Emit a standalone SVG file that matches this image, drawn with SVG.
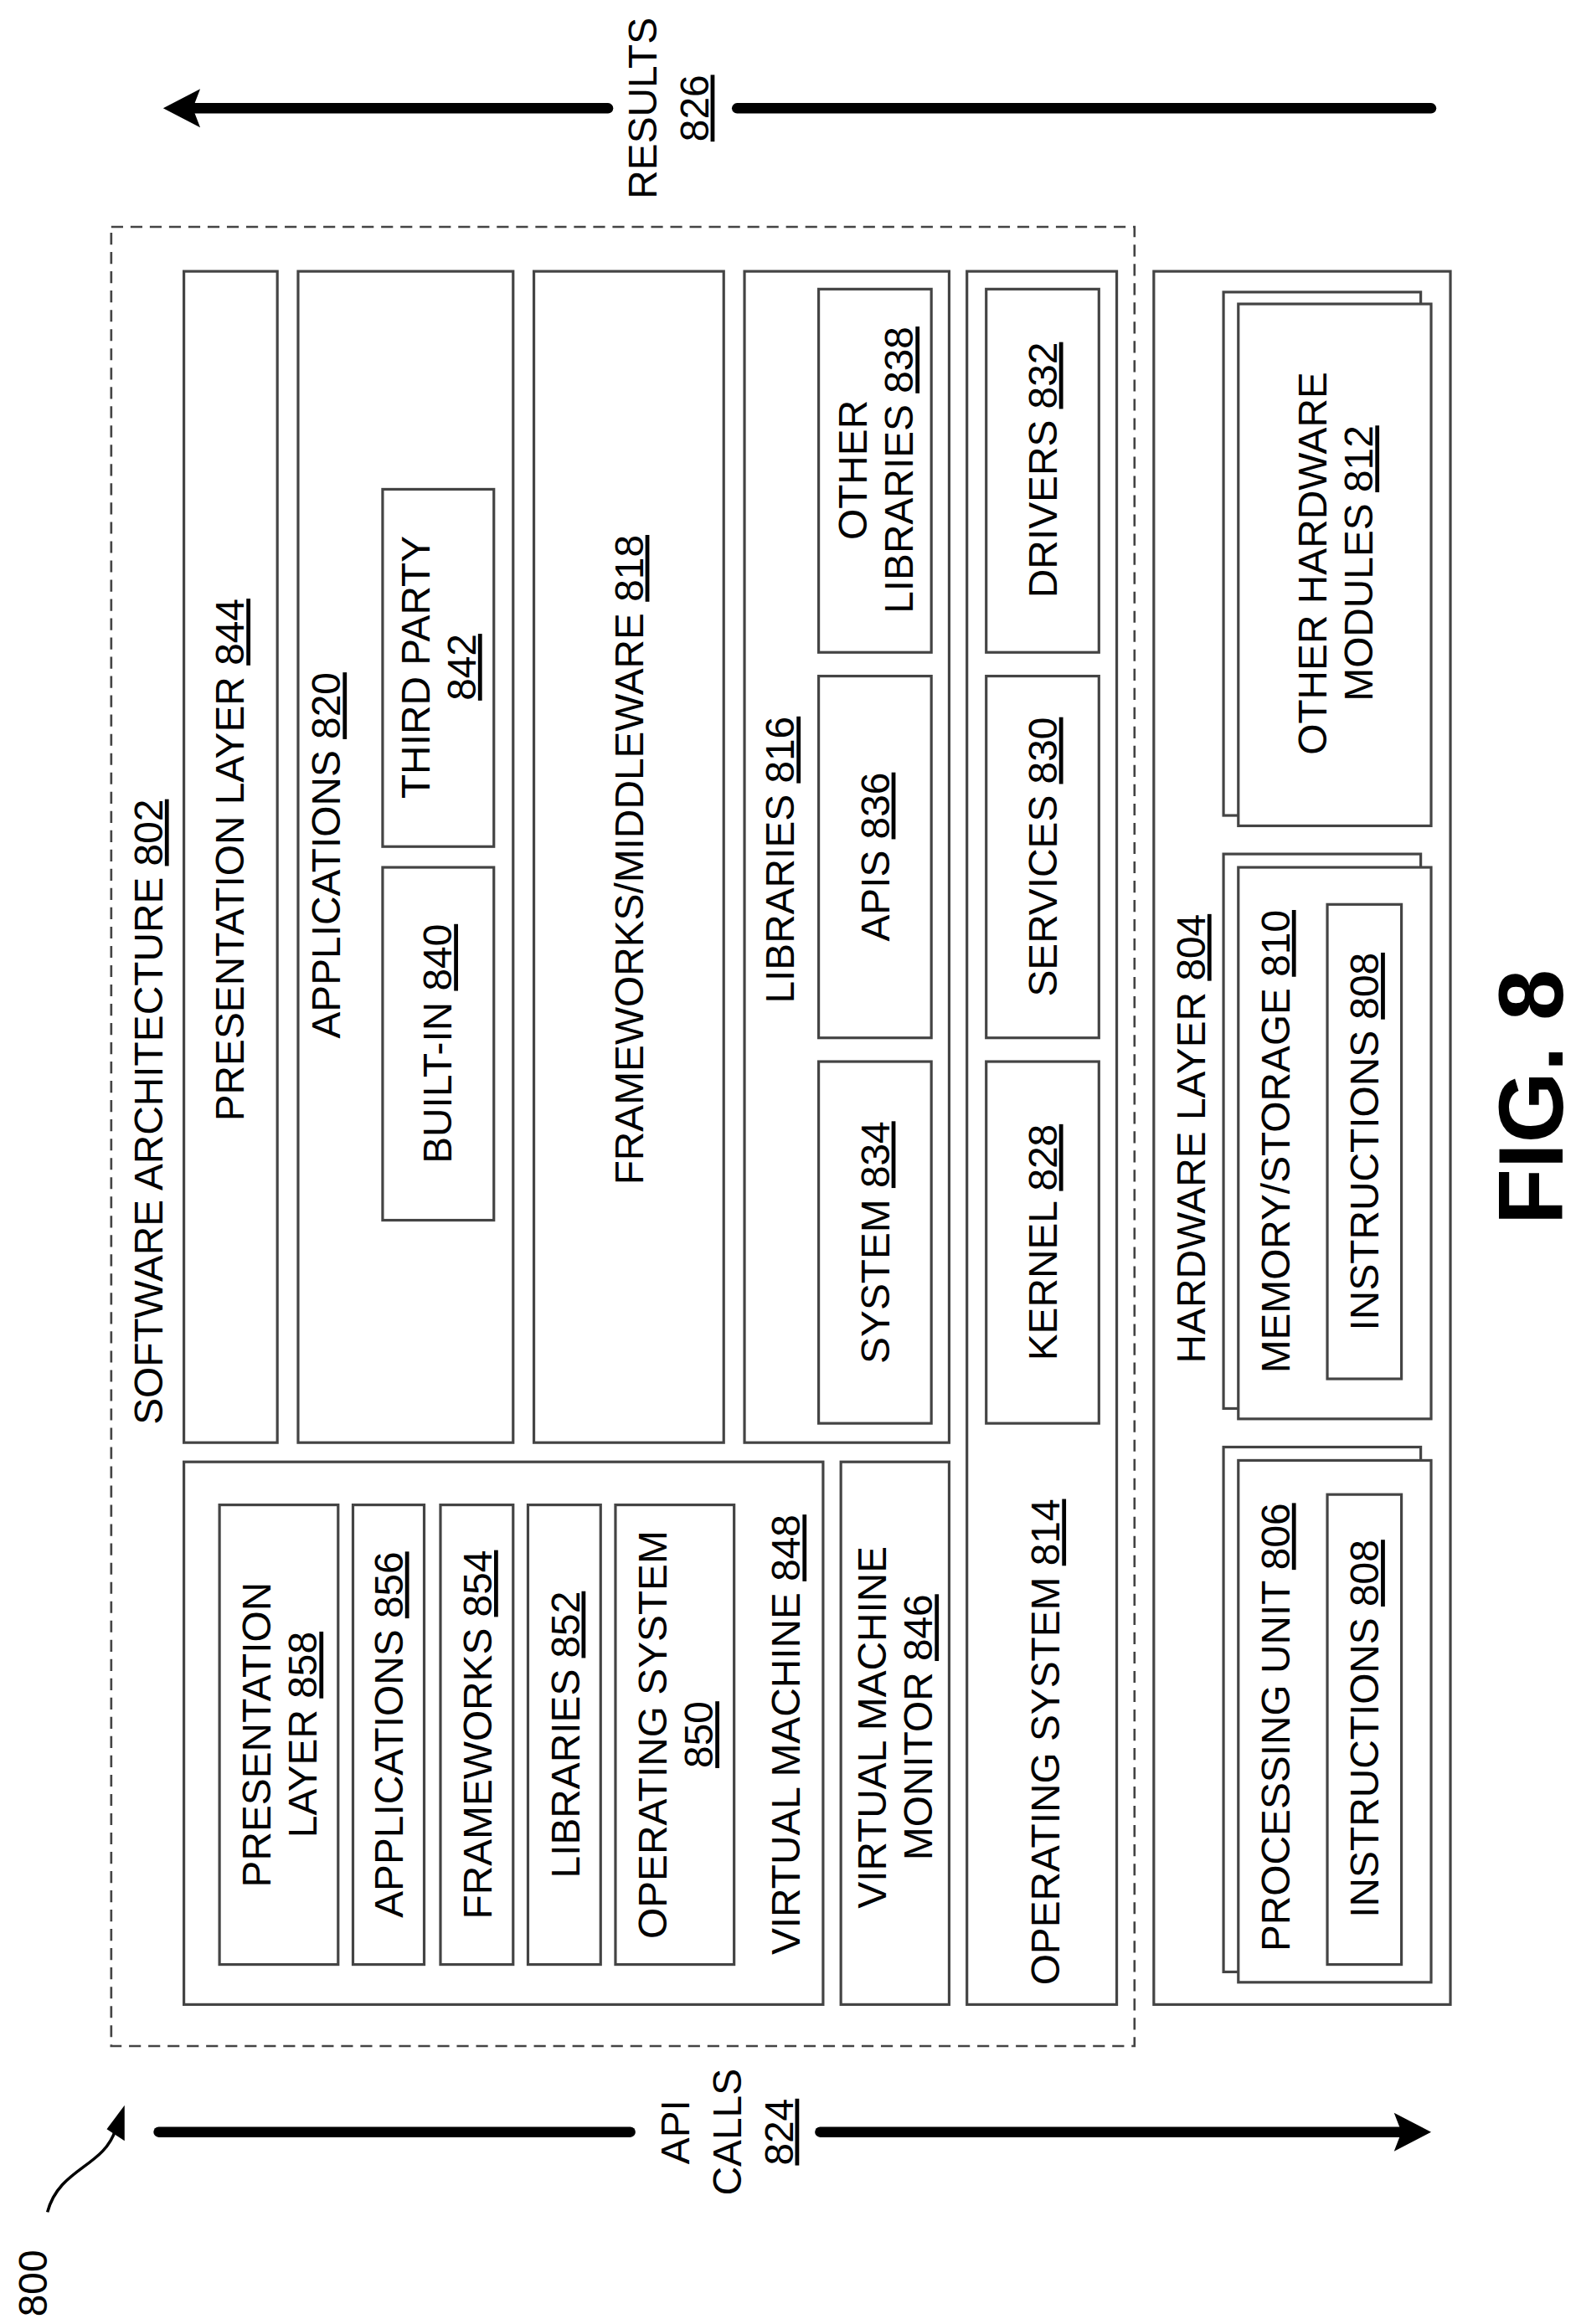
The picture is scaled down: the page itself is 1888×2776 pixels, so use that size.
<svg xmlns="http://www.w3.org/2000/svg" width="1888" height="2776" viewBox="0 0 1888 2776">
<style>
.b{fill:none;stroke:#444;stroke-width:1.8}
.t{font-family:"Liberation Sans",Arial,sans-serif;font-size:27px;fill:#000;text-anchor:middle}
.u{text-decoration:underline}
.ar{stroke:#000;stroke-width:7;stroke-linecap:round;fill:none}
</style>
<rect width="1888" height="2776" fill="#fff"/>
<g transform="scale(1.771)">
<g id="connectors">
<line class="ar" x1="128" y1="73" x2="410" y2="73"/>
<line class="ar" x1="497" y1="73" x2="965" y2="73"/>
<polygon points="110,73 135,60 130,73 135,86" fill="#000"/>
<line class="ar" x1="107" y1="1438" x2="425" y2="1438"/>
<line class="ar" x1="553" y1="1438" x2="945" y2="1438"/>
<polygon points="965,1438 940,1425 945,1438 940,1451" fill="#000"/>
<path d="M32,1492 C40,1462 70,1462 78,1436" fill="none" stroke="#000" stroke-width="2"/>
<polygon points="84,1420 84,1444 72,1436" fill="#000"/>
</g>
<g id="labels">
<text class="t" transform="translate(433,73) rotate(-90)" dy="0.35em">RESULTS</text>
<text class="t u" transform="translate(468,73) rotate(-90)" dy="0.35em">826</text>
<text class="t" transform="translate(455,1438) rotate(-90)" dy="0.35em">API</text>
<text class="t" transform="translate(490,1438) rotate(-90)" dy="0.35em">CALLS</text>
<text class="t u" transform="translate(525,1438) rotate(-90)" dy="0.35em">824</text>
<text class="t" transform="translate(22,1540) rotate(-90)" dy="0.35em">800</text>
<text class="t" transform="translate(1032,740) rotate(-90)" dy="0.35em" style="font-size:62px;font-weight:bold">FIG. 8</text>
</g>
<g id="software-architecture">
<rect x="75" y="153" width="690" height="1227" fill="none" stroke="#444" stroke-width="1.5" stroke-dasharray="8,5"/>
<text class="t" transform="translate(100,750) rotate(-90)" dy="0.35em">SOFTWARE ARCHITECTURE <tspan class="u">802</tspan></text>
</g>
<g id="presentation-layer">
<rect class="b" x="124" y="183" width="63" height="790"/>
<text class="t" transform="translate(155,580) rotate(-90)" dy="0.35em">PRESENTATION LAYER <tspan class="u">844</tspan></text>
</g>
<g id="applications">
<rect class="b" x="201" y="183" width="145" height="790"/>
<text class="t" transform="translate(220,577) rotate(-90)" dy="0.35em">APPLICATIONS <tspan class="u">820</tspan></text>
<rect class="b" x="258" y="585" width="75" height="238"/>
<text class="t" transform="translate(295,704) rotate(-90)" dy="0.35em">BUILT-IN <tspan class="u">840</tspan></text>
<rect class="b" x="258" y="330" width="75" height="241"/>
<text class="t" transform="translate(295,450) rotate(-90)"><tspan x="0" dy="-0.2em">THIRD PARTY</tspan><tspan x="0" dy="1.15em" class="u">842</tspan></text>
</g>
<g id="frameworks">
<rect class="b" x="360" y="183" width="128" height="790"/>
<text class="t" transform="translate(424,580) rotate(-90)" dy="0.35em">FRAMEWORKS/MIDDLEWARE <tspan class="u">818</tspan></text>
</g>
<g id="libraries">
<rect class="b" x="502" y="183" width="138" height="790"/>
<text class="t" transform="translate(526,580) rotate(-90)" dy="0.35em">LIBRARIES <tspan class="u">816</tspan></text>
<rect class="b" x="552" y="195" width="76" height="245"/>
<text class="t" transform="translate(590,317) rotate(-90)"><tspan x="0" dy="-0.2em">OTHER</tspan><tspan x="0" dy="1.15em">LIBRARIES <tspan class="u">838</tspan></tspan></text>
<rect class="b" x="552" y="456" width="76" height="244"/>
<text class="t" transform="translate(590,578) rotate(-90)" dy="0.35em">APIS <tspan class="u">836</tspan></text>
<rect class="b" x="552" y="716" width="76" height="244"/>
<text class="t" transform="translate(590,838) rotate(-90)" dy="0.35em">SYSTEM <tspan class="u">834</tspan></text>
</g>
<g id="operating-system">
<rect class="b" x="652" y="183" width="101" height="1169"/>
<text class="t" transform="translate(705,1175) rotate(-90)" dy="0.35em">OPERATING SYSTEM <tspan class="u">814</tspan></text>
<rect class="b" x="665" y="195" width="76" height="245"/>
<text class="t" transform="translate(703,317) rotate(-90)" dy="0.35em">DRIVERS <tspan class="u">832</tspan></text>
<rect class="b" x="665" y="456" width="76" height="244"/>
<text class="t" transform="translate(703,578) rotate(-90)" dy="0.35em">SERVICES <tspan class="u">830</tspan></text>
<rect class="b" x="665" y="716" width="76" height="244"/>
<text class="t" transform="translate(703,838) rotate(-90)" dy="0.35em">KERNEL <tspan class="u">828</tspan></text>
</g>
<g id="virtual-machine">
<rect class="b" x="124" y="986" width="431" height="366"/>
<text class="t" transform="translate(530,1170) rotate(-90)" dy="0.35em">VIRTUAL MACHINE <tspan class="u">848</tspan></text>
<rect class="b" x="148" y="1015" width="80" height="310"/>
<text class="t" transform="translate(188,1170) rotate(-90)"><tspan x="0" dy="-0.2em">PRESENTATION</tspan><tspan x="0" dy="1.15em">LAYER <tspan class="u">858</tspan></tspan></text>
<rect class="b" x="238" y="1015" width="48" height="310"/>
<text class="t" transform="translate(262,1170) rotate(-90)" dy="0.35em">APPLICATIONS <tspan class="u">856</tspan></text>
<rect class="b" x="297" y="1015" width="49" height="310"/>
<text class="t" transform="translate(322,1170) rotate(-90)" dy="0.35em">FRAMEWORKS <tspan class="u">854</tspan></text>
<rect class="b" x="356" y="1015" width="49" height="310"/>
<text class="t" transform="translate(381,1170) rotate(-90)" dy="0.35em">LIBRARIES <tspan class="u">852</tspan></text>
<rect class="b" x="415" y="1015" width="80" height="310"/>
<text class="t" transform="translate(455,1170) rotate(-90)"><tspan x="0" dy="-0.2em">OPERATING SYSTEM</tspan><tspan x="0" dy="1.15em" class="u">850</tspan></text>
</g>
<g id="vmm">
<rect class="b" x="567" y="986" width="73" height="366"/>
<text class="t" transform="translate(603,1165) rotate(-90)"><tspan x="0" dy="-0.2em">VIRTUAL MACHINE</tspan><tspan x="0" dy="1.15em">MONITOR <tspan class="u">846</tspan></tspan></text>
</g>
<g id="hardware-layer">
<rect class="b" x="778" y="183" width="200" height="1169"/>
<text class="t" transform="translate(803,768) rotate(-90)" dy="0.35em">HARDWARE LAYER <tspan class="u">804</tspan></text>
</g>
<g id="other-hardware">
<rect class="b" x="825" y="197" width="133" height="353" fill="#fff"/>
<rect class="b" x="835" y="205" width="130" height="352" style="fill:#fff"/>
<text class="t" transform="translate(900,380) rotate(-90)"><tspan x="0" dy="-0.2em">OTHER HARDWARE</tspan><tspan x="0" dy="1.15em">MODULES <tspan class="u">812</tspan></tspan></text>
</g>
<g id="memory">
<rect class="b" x="825" y="576" width="133" height="374"/>
<rect class="b" x="835" y="585" width="130" height="372" style="fill:#fff"/>
<text class="t" transform="translate(860,770) rotate(-90)" dy="0.35em">MEMORY/STORAGE <tspan class="u">810</tspan></text>
<rect class="b" x="895" y="610" width="50" height="320"/>
<text class="t" transform="translate(920,770) rotate(-90)" dy="0.35em">INSTRUCTIONS <tspan class="u">808</tspan></text>
</g>
<g id="processing">
<rect class="b" x="825" y="976" width="133" height="354"/>
<rect class="b" x="835" y="985" width="130" height="352" style="fill:#fff"/>
<text class="t" transform="translate(860,1165) rotate(-90)" dy="0.35em">PROCESSING UNIT <tspan class="u">806</tspan></text>
<rect class="b" x="895" y="1008" width="50" height="317"/>
<text class="t" transform="translate(920,1166) rotate(-90)" dy="0.35em">INSTRUCTIONS <tspan class="u">808</tspan></text>
</g>
</g>
</svg>
